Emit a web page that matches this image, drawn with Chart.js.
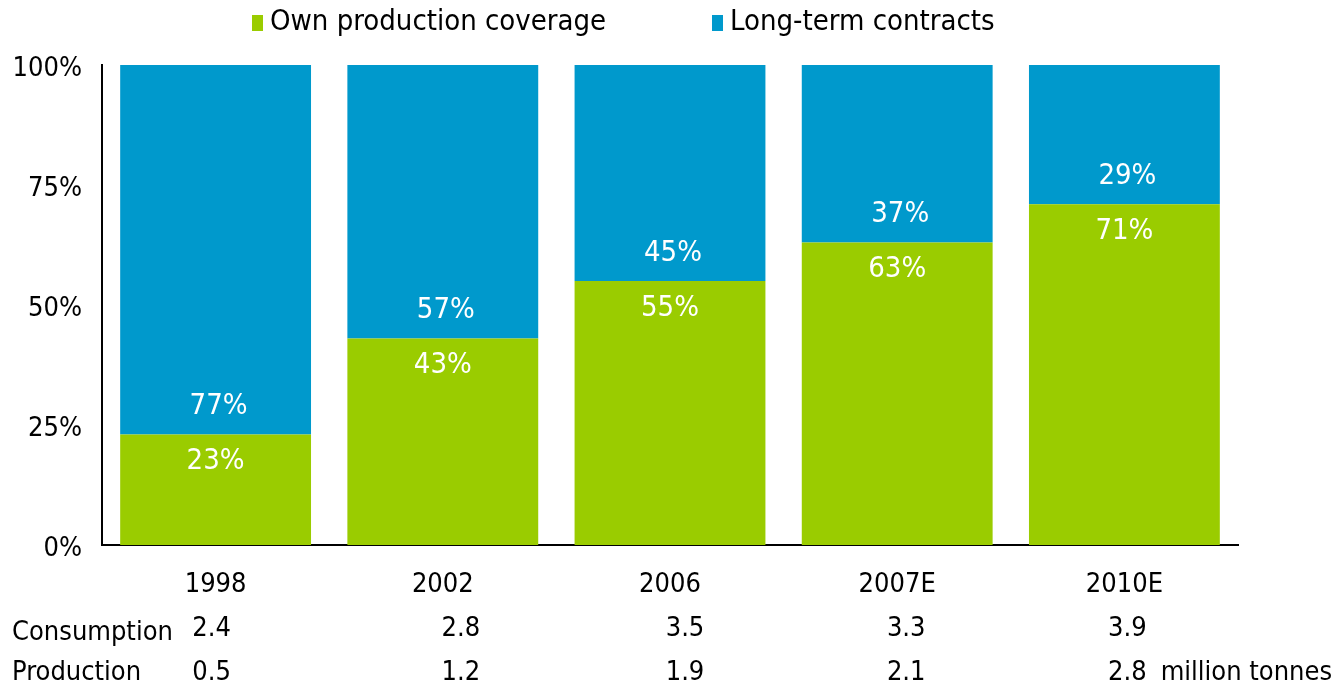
<!DOCTYPE html>
<html>
<head>
<meta charset="utf-8">
<script src="https://cdn.jsdelivr.net/npm/chart.js@4.4.1/dist/chart.umd.min.js"></script>
<style>
  html, body { margin: 0; padding: 0; background: #ffffff; }
  #wrap { width: 1338px; height: 683px; position: relative; }
</style>
</head>
<body>
<div id="wrap"><canvas id="c" width="1338" height="683"></canvas></div>
<script>
// ---- data ----
const categories = ['1998', '2002', '2006', '2007E', '2010E'];
const ownProduction = [23, 43, 55, 63, 71];
const longTermContracts = [77, 57, 45, 37, 29];
const consumption = ['2.4', '2.8', '3.5', '3.3', '3.9'];
const production = ['0.5', '1.2', '1.9', '2.1', '2.8'];
const yTicks = [0, 25, 50, 75, 100];
const seriesNames = ['Own production coverage', 'Long-term contracts'];
const rowNames = ['Consumption', 'Production'];
const unitText = 'million tonnes';

// ---- style ----
const FONT = "'DejaVu Sans Condensed', 'DejaVu Sans', sans-serif";
const FS = 27;      // ticks and table
const FS_BIG = 29;  // legend and value labels
const GREEN = '#9ACC00';
const BLUE = '#0099CC';
const tableShift = [-4, 18, 15, 9, 3];   // horizontal nudge of table text per column (px)

const overlay = {
  id: 'overlay',
  afterDatasetsDraw(chart) {
    const ctx = chart.ctx;
    const x = chart.scales.x, y = chart.scales.y;
    ctx.save();
    ctx.font = FS_BIG + 'px ' + FONT;
    ctx.fillStyle = '#ffffff';
    ctx.textAlign = 'center';
    ctx.textBaseline = 'middle';
    categories.forEach((c, i) => {
      const cx = x.getPixelForValue(i);
      const by = y.getPixelForValue(ownProduction[i]);
      ctx.fillText(ownProduction[i] + '%', cx, by + 27);
      ctx.fillText(longTermContracts[i] + '%', cx + 3, by - 28);
    });
    ctx.restore();
  },
  afterDraw(chart) {
    const ctx = chart.ctx;
    const x = chart.scales.x;
    ctx.save();
    ctx.textBaseline = 'middle';
    // legend
    ctx.font = FS_BIG + 'px ' + FONT;
    const ds = chart.data.datasets;
    const legendX = [252, 712];
    ds.forEach((d, i) => {
      const lx = legendX[i];
      ctx.fillStyle = d.backgroundColor;
      ctx.fillRect(lx, 15, 11, 16);
      ctx.fillStyle = '#000000';
      ctx.textAlign = 'left';
      ctx.fillText(d.label, lx + 18, 22);
    });
    // table rows
    ctx.font = FS + 'px ' + FONT;
    const rows = [consumption, production];
    const rowY = [633, 673];
    rows.forEach((r, k) => {
      ctx.textAlign = 'left';
      ctx.fillText(rowNames[k], 12, rowY[k]);
      ctx.textAlign = 'center';
      r.forEach((v, i) => {
        ctx.fillText(v, x.getPixelForValue(i) + tableShift[i], rowY[k] - (k === 0 ? 4 : 0));
      });
    });
    ctx.textAlign = 'left';
    const last = x.getPixelForValue(categories.length - 1) + tableShift[categories.length - 1];
    const w = ctx.measureText(production[production.length - 1]).width;
    ctx.fillText(unitText, last + w / 2 + 14, rowY[1]);
    ctx.restore();
  }
};

new Chart(document.getElementById('c'), {
  type: 'bar',
  data: {
    labels: categories,
    datasets: [
      { label: seriesNames[0], data: ownProduction, backgroundColor: GREEN, borderWidth: 0 },
      { label: seriesNames[1], data: longTermContracts, backgroundColor: BLUE, borderWidth: 0 }
    ]
  },
  plugins: [overlay],
  options: {
    responsive: false,
    animation: false,
    devicePixelRatio: 1,
    layout: { padding: { left: 0, right: 100, top: 65, bottom: 0 } },
    plugins: { legend: { display: false }, tooltip: { enabled: false } },
    datasets: { bar: { barPercentage: 0.84, categoryPercentage: 1.0 } },
    scales: {
      x: {
        stacked: true,
        grid: { display: false },
        border: { display: true, color: '#000000', width: 2 },
        ticks: { color: '#000000', font: { family: FONT, size: FS }, padding: 16, maxRotation: 0 },
        afterFit(s) { s.height = 138; }
      },
      y: {
        stacked: true,
        min: 0, max: 100,
        grid: { display: false },
        border: { display: true, color: '#000000', width: 2 },
        afterBuildTicks(s) { s.ticks = yTicks.map(v => ({ value: v })); },
        ticks: {
          color: '#000000', font: { family: FONT, size: FS }, padding: 12, labelOffset: 4,
          callback: v => v + '%'
        },
        afterFit(s) { s.width = 102; }
      }
    }
  }
});
</script>
</body>
</html>
